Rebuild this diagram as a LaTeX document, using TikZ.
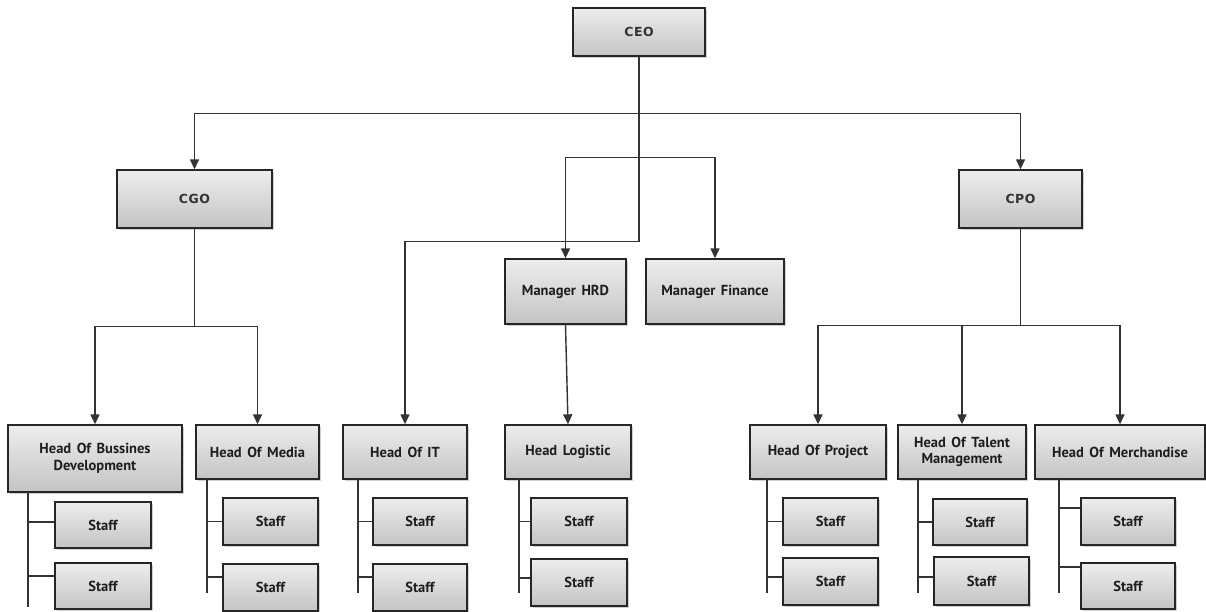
\documentclass[tikz,border=0pt]{standalone}
\usepackage{fontspec}
\setmainfont{PT Sans}[WordSpace=1.5]
\newfontfamily\execfont[LetterSpace=4]{DejaVu Sans}
\usetikzlibrary{arrows.meta,shadows}
\definecolor{boxtop}{HTML}{EDEDED}
\definecolor{boxbot}{HTML}{C4C4C4}
\definecolor{edge}{HTML}{262626}
\definecolor{wire}{HTML}{333333}
\definecolor{ink}{HTML}{1E1E1E}
\tikzset{
  unit/.style={draw=edge, line width=1.4pt, top color=boxtop, bottom color=boxbot,
    drop shadow={shadow xshift=2pt, shadow yshift=-2pt, opacity=0.18, fill=black},
    inner sep=0pt, align=center, text=ink,
    font=\bfseries\fontsize{14.5}{16.5}\selectfont},
  box/.style 2 args={unit, minimum width=#1, minimum height=#2},
  exec/.style={font=\execfont\bfseries\fontsize{12.5}{15}\selectfont, text=black!80},
  link/.style={draw=wire, line width=1.4pt},
  arr/.style={link, -{Triangle[width=9pt,length=10pt]}},
}
\begin{document}
\begin{tikzpicture}[x=1pt,y=-1pt]
\useasboundingbox (0,0) rectangle (1206,611);

% executives
\node[box={132pt}{48pt}, exec] (ceo) at (639,32) {CEO};
\node[box={155pt}{58pt}, exec] (cgo) at (194.5,199) {CGO};
\node[box={123pt}{58pt}, exec] (cpo) at (1020.5,199) {CPO};
\node[box={121pt}{65pt}] (hrd) at (565.5,291.5) {Manager HRD};
\node[box={138pt}{65pt}] (fin) at (715,291.5) {Manager Finance};

% department heads
\node[box={174pt}{67pt}] (bus) at (95,458.5) {Head Of Bussines\\Development};
\node[box={123pt}{54pt}] (med) at (257.5,452) {Head Of Media};
\node[box={124pt}{54pt}] (it)  at (405,452) {Head Of IT};
\node[box={126pt}{54pt}] (log) at (568,452) {Head Logistic};
\node[box={136pt}{54pt}] (prj) at (818,452) {Head Of Project};
\node[box={128pt}{54pt}] (tal) at (962,452) {Head Of Talent\\Management};
\node[box={170pt}{54pt}] (mer) at (1120,452) {Head Of Merchandise};

% staff
\node[box={96pt}{46pt}] (bus1) at (103,525) {Staff};
\node[box={96pt}{46pt}] (bus2) at (103,586) {Staff};
\node[box={95pt}{47pt}] (med1) at (270.5,521.5) {Staff};
\node[box={95pt}{47pt}] (med2) at (270.5,587.5) {Staff};
\node[box={94pt}{47pt}] (it1)  at (420,521.5) {Staff};
\node[box={94pt}{47pt}] (it2)  at (420,587.5) {Staff};
\node[box={96pt}{47pt}] (log1) at (579,521.5) {Staff};
\node[box={96pt}{47pt}] (log2) at (579,582.5) {Staff};
\node[box={95pt}{47pt}] (prj1) at (830.5,521.5) {Staff};
\node[box={95pt}{47pt}] (prj2) at (830.5,581.5) {Staff};
\node[box={94pt}{46pt}] (tal1) at (980,522) {Staff};
\node[box={95pt}{48pt}] (tal2) at (981.5,581) {Staff};
\node[box={94pt}{47pt}] (mer1) at (1128,521.5) {Staff};
\node[box={94pt}{46pt}] (mer2) at (1128,586) {Staff};

% CEO reporting lines
\draw[arr] (ceo.south) -- ++(0,57) -| (cgo.north);
\draw[arr] (ceo.south) -- ++(0,57) -| (cpo.north);
\draw[arr] ([yshift=-101pt]ceo.south) -| (hrd.north);
\draw[arr] ([yshift=-101pt]ceo.south) -| (fin.north);
\draw[arr] (ceo.south) -- ++(0,185) -| (it.north);

% CGO, CPO and HRD lines
\draw[arr] (cgo.south) -- ++(0,98) -| (bus.north);
\draw[arr] (cgo.south) -- ++(0,98) -| (med.north);
\draw[arr] (cpo.south) -- ++(0,97) -| (prj.north);
\draw[arr] (cpo.south) -- ++(0,97) -| (tal.north);
\draw[arr] (cpo.south) -- ++(0,97) -| (mer.north);
\draw[arr] (hrd.south) -- (log.north);

% staff spines
\coordinate (busv) at (28,492);
\coordinate (medv) at (207,479);
\coordinate (itv)  at (358,479);
\coordinate (logv) at (519,479);
\coordinate (prjv) at (767,479);
\coordinate (talv) at (918,479);
\coordinate (merv) at (1059,479);
\draw[link] (busv) -- ++(0,115);
\foreach \v in {medv,itv,logv,prjv,talv,merv}
  \draw[link] (\v) -- ++(0,114);

% staff branches
\draw[link] ([yshift=3pt]bus1.west -| busv) -- ([yshift=3pt]bus1.west);
\draw[link] ([yshift=10pt]bus2.west -| busv) -- ([yshift=10pt]bus2.west);
\draw[link] (med1.west -| medv) -- (med1.west);
\draw[link] ([yshift=10.5pt]med2.west -| medv) -- ([yshift=10.5pt]med2.west);
\draw[link] (it1.west -| itv) -- (it1.west);
\draw[link] ([yshift=10.5pt]it2.west -| itv) -- ([yshift=10.5pt]it2.west);
\draw[link] (log1.west -| logv) -- (log1.west);
\draw[link] ([yshift=4.5pt]log2.west -| logv) -- ([yshift=4.5pt]log2.west);
\draw[link] (prj1.west -| prjv) -- (prj1.west);
\draw[link] ([yshift=4.5pt]prj2.west -| prjv) -- ([yshift=4.5pt]prj2.west);
\draw[link] (tal1.west -| talv) -- (tal1.west);
\draw[link] ([yshift=4pt]tal2.west -| talv) -- ([yshift=4pt]tal2.west);
\draw[link] ([yshift=13.5pt]mer1.west -| merv) -- ([yshift=13.5pt]mer1.west);
\draw[link] ([yshift=19pt]mer2.west -| merv) -- ([yshift=19pt]mer2.west);
\end{tikzpicture}
\end{document}
